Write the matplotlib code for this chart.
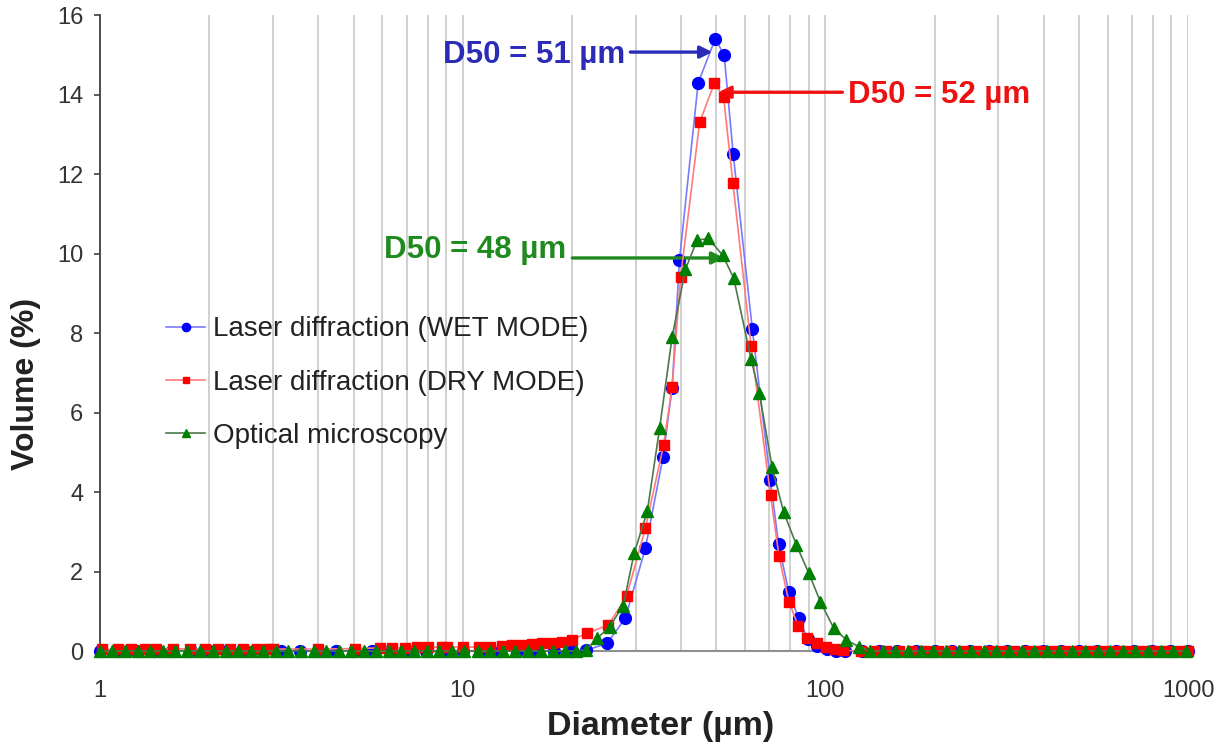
import matplotlib
matplotlib.use('Agg')
import matplotlib.pyplot as plt
from matplotlib.ticker import FixedLocator, NullFormatter, FixedFormatter

plt.rcParams['font.family'] = ['Liberation Sans', 'DejaVu Sans']

#----------------------------- Dados -----------------------------

# Laser diffraction (WET MODE)
d_wet = [1.0, 1.12, 1.26, 1.41, 1.58, 1.78, 2.0, 2.24, 2.51, 2.82, 3.16, 3.55, 3.98, 4.47,
         5.01, 5.62, 6.31, 7.08, 7.94, 8.91, 10.0, 11.2, 12.6, 14.1, 15.8, 17.8, 20.0, 21.9,
         25.0, 28.1, 31.9, 35.7, 37.8, 39.6, 44.6, 49.7, 52.6, 55.7, 62.9, 70.5, 74.3, 79.2,
         84.4, 89.5, 95.0, 101, 107, 113, 126, 141, 158, 178, 200, 224, 251, 282, 316, 355,
         398, 447, 501, 562, 631, 708, 794, 891, 1000]
v_wet = [0, 0, 0, 0, 0, 0, 0, 0, 0, 0, 0, 0, 0, 0,
         0, 0, 0, 0, 0, 0, 0, 0, 0, 0, 0, 0, 0, 0.02,
         0.19, 0.83, 2.59, 4.89, 6.62, 9.84, 14.3, 15.4, 15.0, 12.5, 8.1, 4.3, 2.7, 1.49,
         0.82, 0.3, 0.12, 0.05, 0, 0, 0, 0, 0, 0, 0, 0, 0, 0, 0, 0,
         0, 0, 0, 0, 0, 0, 0, 0, 0]

# Laser diffraction (DRY MODE)
d_dry = [1.01, 1.12, 1.22, 1.33, 1.43, 1.59, 1.77, 1.95, 2.12, 2.28, 2.48, 2.71, 2.91, 3.0,
         4.0, 5.05, 5.9, 6.37, 6.93, 7.47, 8.03, 8.76, 9.04, 10.05, 11.1, 11.9, 12.8, 13.7,
         14.6, 15.5, 16.5, 17.6, 18.8, 20.0, 22.0, 25.2, 28.3, 31.9, 35.8, 37.8, 39.9, 45.0,
         49.4, 52.4, 55.6, 62.4, 70.6, 74.5, 79.3, 84.2, 88.9, 94.6, 100.6, 106, 112,
         125, 136, 147, 160, 173, 188, 204, 221, 240, 260, 282, 306, 332, 360, 390, 423,
         459, 498, 540, 585, 635, 688, 746, 809, 877, 951, 1000]
v_dry = [0.04, 0.04, 0.04, 0.05, 0.05, 0.05, 0.05, 0.05, 0.05, 0.05, 0.05, 0.05, 0.05, 0.05,
         0.05, 0.06, 0.08, 0.08, 0.08, 0.09, 0.09, 0.1, 0.1, 0.1, 0.1, 0.11, 0.12, 0.14,
         0.15, 0.18, 0.19, 0.21, 0.23, 0.28, 0.45, 0.65, 1.38, 3.09, 5.18, 6.65, 9.42, 13.3,
         14.28, 13.95, 11.77, 7.67, 3.92, 2.39, 1.24, 0.63, 0.32, 0.19, 0.11, 0.05, 0.02,
         0, 0, 0, 0, 0, 0, 0, 0, 0, 0, 0, 0, 0, 0, 0, 0,
         0, 0, 0, 0, 0, 0, 0, 0, 0, 0, 0]

# Optical microscopy
d_opt = [1.0, 1.08, 1.17, 1.27, 1.37, 1.49, 1.61, 1.74, 1.89, 2.05, 2.22, 2.4, 2.6, 2.82,
         3.05, 3.3, 3.58, 3.88, 4.2, 4.55, 4.93, 5.34, 5.78, 6.26, 6.78, 7.35, 7.96, 8.62,
         9.34, 10.1, 11.0, 11.9, 12.9, 13.9, 15.1, 16.4, 17.7, 19.2, 20.5, 21.9, 23.5, 25.4,
         27.7, 29.7, 32.3, 34.9, 37.8, 41.1, 44.3, 47.6, 52.1, 55.9, 62.4, 65.8, 71.3, 76.7,
         83.2, 89.9, 96.9, 105.5, 114.3, 123.6, 133, 144, 156, 169, 183, 198, 215, 233, 252,
         273, 296, 321, 348, 377, 408, 442, 479, 519, 563, 610, 661, 716, 776, 841, 911, 987]
v_opt = [0, 0, 0, 0, 0, 0, 0, 0, 0, 0, 0, 0, 0, 0,
         0, 0, 0, 0, 0, 0, 0, 0, 0, 0, 0, 0, 0, 0,
         0, 0, 0, 0, 0, 0, 0, 0, 0, 0, 0, 0.03, 0.32, 0.61,
         1.14, 2.46, 3.52, 5.6, 7.9, 9.6, 10.34, 10.38, 9.96, 9.38, 7.34, 6.48, 4.62, 3.5,
         2.67, 1.97, 1.24, 0.57, 0.28, 0.11, 0, 0, 0, 0, 0, 0, 0, 0, 0,
         0, 0, 0, 0, 0, 0, 0, 0, 0, 0, 0, 0, 0, 0, 0, 0, 0]

x_ticks = [1, 10, 100, 1000]
x_tick_labels = ['1', '10', '100', '1000']
y_ticks = [0, 2, 4, 6, 8, 10, 12, 14, 16]

# D50 de cada serie: (texto, ponta da seta, inicio da seta, posicao do texto, cor)
d50_wet = ('D50 = 51 µm', (48.8, 15.07), (29.0, 15.07), (28.1, 15.0), '#2b2bb8')
d50_dry = ('D50 = 52 µm', (50.7, 14.06), (111.4, 14.06), (115.7, 13.98), '#ee1111')
d50_opt = ('D50 = 48 µm', (52.6, 9.89), (20.05, 9.89), (19.3, 10.09), '#1f8a1f')

#--------------------------------- Grafico -----------------------------------------

fig = plt.figure(figsize=(12.3, 7.49), dpi=100)
ax = fig.add_axes([0.0813, 0.1308, 0.8846, 0.849])

ax.plot(d_wet, v_wet, color='#7a7aff', lw=1.2, marker='o', ms=8.5,
        mfc='#0000ff', mec='#0000ff', clip_on=False, zorder=3,
        label='Laser diffraction (WET MODE)')
ax.plot(d_dry, v_dry, color='#ff7a7a', lw=1.2, marker='s', ms=7,
        mfc='#ff0000', mec='#ff0000', clip_on=False, zorder=4,
        label='Laser diffraction (DRY MODE)')
ax.plot(d_opt, v_opt, color='#4a7a4a', lw=1.2, marker='^', ms=8.5,
        mfc='#008000', mec='#008000', clip_on=False, zorder=5,
        label='Optical microscopy')

ax.set_xscale('log')
ax.set_xlim(1, 1000)
ax.set_ylim(0, 16)

# grade vertical em todas as divisoes da escala log
grid_x = []
for dec in [1, 10, 100]:
    for k in range(1, 10):
        grid_x.append(dec * k)
grid_x.append(1000)
for gx in grid_x:
    ax.axvline(gx, color='#c8c8c8', lw=1.2, zorder=0)

ax.xaxis.set_major_locator(FixedLocator(x_ticks))
ax.xaxis.set_major_formatter(FixedFormatter(x_tick_labels))
ax.xaxis.set_minor_formatter(NullFormatter())
ax.tick_params(axis='x', which='both', length=0, labelsize=17, pad=21, labelcolor='#333333')
ax.set_yticks(y_ticks)
ax.tick_params(axis='y', length=4, width=1.2, labelsize=17, color='#404040',
               labelcolor='#333333', pad=8)

for s in ['top', 'right']:
    ax.spines[s].set_visible(False)
ax.spines['left'].set_color('#404040')
ax.spines['left'].set_linewidth(1.3)
ax.spines['bottom'].set_color('#909090')
ax.spines['bottom'].set_linewidth(1.5)

ax.set_xlabel('Diameter (µm)', fontsize=24.5, fontweight='bold', color='#222222')
ax.set_ylabel('Volume (%)', fontsize=23, fontweight='bold', color='#222222')
ax.xaxis.set_label_coords(0.515, -0.094)
ax.yaxis.set_label_coords(-0.054, 0.42)

ax.legend(loc='upper left', bbox_to_anchor=(0.048, 0.548), frameon=False,
          fontsize=20, handlelength=1.4, handletextpad=0.3, labelspacing=0.98,
          borderpad=0, markerscale=0.7, labelcolor='#222222')

# setas D50
for txt, ponta, inicio, pos, cor in [d50_wet, d50_dry, d50_opt]:
    ax.annotate('', xy=ponta, xytext=inicio,
                arrowprops=dict(arrowstyle='-|>', color=cor, lw=2.4, mutation_scale=18,
                                shrinkA=0, shrinkB=0))
    ha = 'left' if pos[0] > ponta[0] else 'right'
    ax.text(pos[0], pos[1], txt, color=cor, fontsize=22.5, fontweight='bold',
            ha=ha, va='center')

fig.savefig('out.png', dpi=100)
